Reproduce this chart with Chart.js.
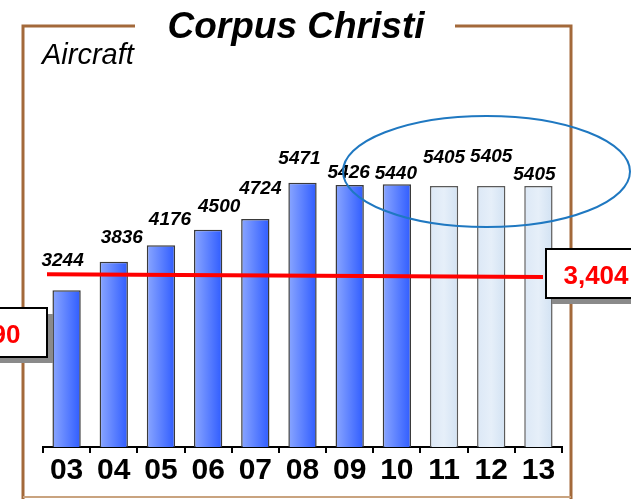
<!DOCTYPE html>
<html lang="en">
<head>
<meta charset="utf-8">
<script src="https://cdn.jsdelivr.net/npm/chart.js@4.4.1/dist/chart.umd.min.js"></script>
<style>
  html, body { margin: 0; padding: 0; background: #fff; }
  #grafico { display: block; }
</style>
</head>
<body>
<canvas id="grafico" width="631" height="499"></canvas>
<script>
// Datos del gráfico
const anios = ["03", "04", "05", "06", "07", "08", "09", "10", "11", "12", "13"];
const aeronaves = [3244, 3836, 4176, 4500, 4724, 5471, 5426, 5440, 5405, 5405, 5405];
const primerProyectado = 8; // desde "11" las barras son proyección
const lineaPromedio = [3580, 3520]; // valor al inicio y al final de la línea roja
const etiquetasCaja = ["3,490", "3,404"];
const ejeMax = 7000;

// Ajustes de posición de las etiquetas (px), sólo estilo
const etiquetaDx = [-4, 8, 9, 11, 5, -3, -1, -1, 0, 0, -4];
const etiquetaDy = [30, 24, 26, 23, 30, 24, 12, 11, 28, 29, 11];

const FUENTE = "'Liberation Sans', Arial, sans-serif";

// Degradado horizontal para cada barra
function colorBarra(ctx) {
  const chart = ctx.chart;
  const i = ctx.dataIndex;
  const escala = chart.scales.x;
  if (!escala || !chart.chartArea) return "#5b7cff";
  const cx = escala.getPixelForValue(i);
  const medio = (escala.width / anios.length) * 0.6 / 2;
  const g = chart.ctx.createLinearGradient(cx - medio, 0, cx + medio, 0);
  if (i >= primerProyectado) {
    g.addColorStop(0, "#DCE8F6");
    g.addColorStop(0.5, "#E6EFF9");
    g.addColorStop(1, "#D2E2F3");
  } else {
    g.addColorStop(0, "#8AA6FF");
    g.addColorStop(1, "#2F5CFF");
  }
  return g;
}

function caja(ctx, x, y, w, h, texto, textoX) {
  ctx.fillStyle = "#8a8a8a";
  ctx.fillRect(x + 6, y + 6, w, h);
  ctx.fillStyle = "#fff";
  ctx.fillRect(x, y, w, h);
  ctx.strokeStyle = "#000";
  ctx.lineWidth = 2;
  ctx.strokeRect(x, y, w, h);
  ctx.fillStyle = "#FF0000";
  ctx.font = "bold 26px " + FUENTE;
  ctx.textAlign = "center";
  ctx.textBaseline = "alphabetic";
  ctx.fillText(texto, textoX, y + 35);
}

const decoracion = {
  id: "decoracion",
  beforeDraw(chart) {
    const ctx = chart.ctx;
    ctx.save();
    ctx.fillStyle = "#fff";
    ctx.fillRect(0, 0, chart.width, chart.height);
    ctx.restore();
  },
  afterDatasetsDraw(chart) {
    const ctx = chart.ctx;
    const y = chart.scales.y;
    const meta = chart.getDatasetMeta(0);
    ctx.save();

    // Línea roja
    ctx.strokeStyle = "#FF0000";
    ctx.lineWidth = 4;
    ctx.beginPath();
    ctx.moveTo(47, y.getPixelForValue(lineaPromedio[0]));
    ctx.lineTo(543, y.getPixelForValue(lineaPromedio[1]));
    ctx.stroke();

    // Etiquetas de valores
    ctx.fillStyle = "#000";
    ctx.font = "italic bold 19px " + FUENTE;
    ctx.textAlign = "center";
    ctx.textBaseline = "middle";
    meta.data.forEach((barra, i) => {
      ctx.fillText(String(aeronaves[i]), barra.x + etiquetaDx[i], barra.y - etiquetaDy[i]);
    });

    // Marco marrón
    ctx.strokeStyle = "#A3693A";
    ctx.lineWidth = 3;
    ctx.beginPath();
    ctx.moveTo(135, 26);
    ctx.lineTo(23, 26);
    ctx.lineTo(23, 499);
    ctx.moveTo(455, 26);
    ctx.lineTo(571, 26);
    ctx.lineTo(571, 499);
    ctx.stroke();
    ctx.strokeStyle = "#C9A37F";
    ctx.lineWidth = 2;
    ctx.beginPath();
    ctx.moveTo(23, 497);
    ctx.lineTo(571, 497);
    ctx.stroke();

    // Títulos
    ctx.fillStyle = "#000";
    ctx.textAlign = "center";
    ctx.textBaseline = "alphabetic";
    ctx.font = "italic bold 37px " + FUENTE;
    ctx.fillText("Corpus Christi", 296, 38);
    ctx.textAlign = "left";
    ctx.font = "italic 29px " + FUENTE;
    ctx.fillText("Aircraft", 42, 64);

    // Cajas con los valores
    caja(ctx, -70, 308, 117, 49, etiquetasCaja[0], -12);
    caja(ctx, 546, 249, 100, 49, etiquetasCaja[1], 596);

    // Elipse azul
    ctx.strokeStyle = "#1F78C1";
    ctx.lineWidth = 2;
    ctx.beginPath();
    ctx.ellipse(486.5, 171.5, 143.5, 55.5, 0, 0, Math.PI * 2);
    ctx.stroke();

    ctx.restore();
  }
};

new Chart(document.getElementById("grafico"), {
  type: "bar",
  data: {
    labels: anios,
    datasets: [{
      data: aeronaves,
      backgroundColor: colorBarra,
      borderColor: (ctx) => ctx.dataIndex >= primerProyectado ? "#5a5a5a" : "#3a3a3a",
      borderWidth: 1.5,
      categoryPercentage: 1,
      barPercentage: 0.6
    }]
  },
  options: {
    responsive: false,
    animation: false,
    layout: { padding: { top: 109, left: 43, right: 69, bottom: 0 } },
    plugins: {
      legend: { display: false },
      tooltip: { enabled: false }
    },
    scales: {
      x: {
        offset: true,
        grid: {
          display: true,
          offset: true,
          drawOnChartArea: false,
          drawTicks: true,
          tickLength: 6,
          color: "#000",
          lineWidth: 2
        },
        border: { display: true, color: "#000", width: 2 },
        ticks: {
          color: "#000",
          padding: 0,
          font: { family: FUENTE, size: 30, weight: "bold" }
        },
        afterFit: (escala) => { escala.height = 52; }
      },
      y: {
        display: false,
        min: 0,
        max: ejeMax
      }
    }
  },
  plugins: [decoracion]
});
</script>
</body>
</html>
